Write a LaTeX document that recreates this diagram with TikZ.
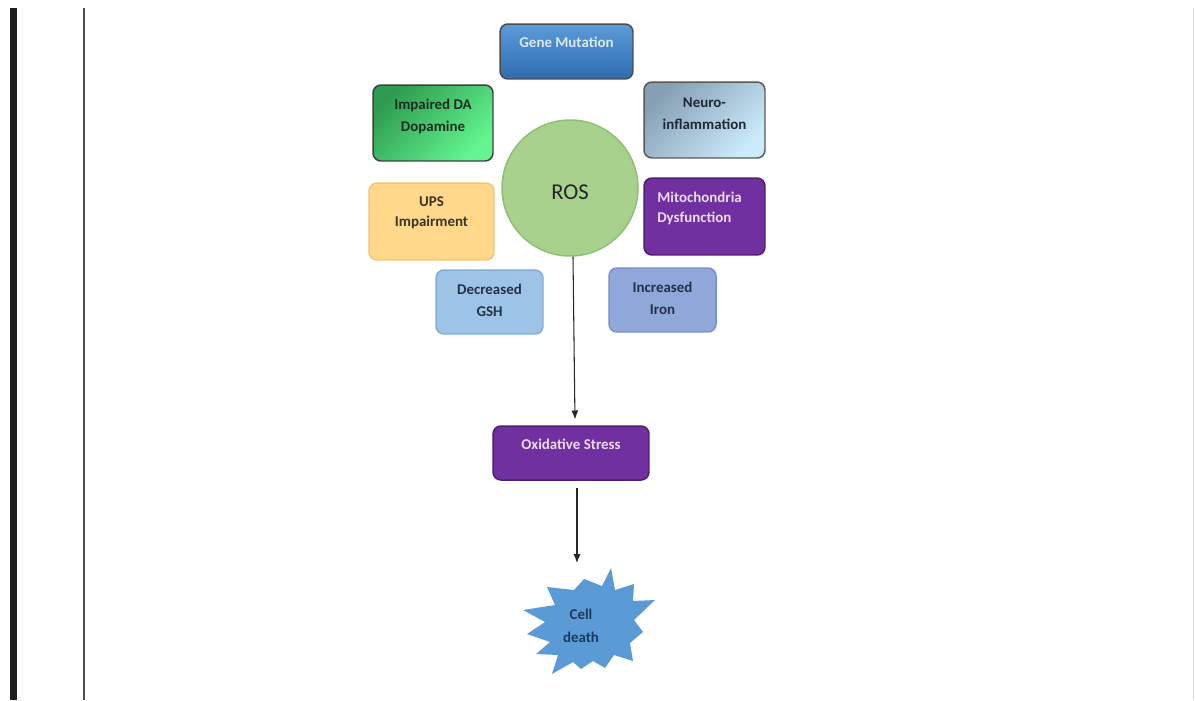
\documentclass[tikz,border=0pt]{standalone}
\usepackage{fontspec}
\setmainfont{Carlito}
\usetikzlibrary{arrows.meta}
\definecolor{gblueA}{HTML}{5A9BD8}
\definecolor{gblueB}{HTML}{2E6CB0}
\definecolor{gtxt}{HTML}{DCE8F6}
\definecolor{dagA}{HTML}{2E9C50}
\definecolor{dagB}{HTML}{64F590}
\definecolor{dtxt}{HTML}{1E2E22}
\definecolor{neuA}{HTML}{869FB4}
\definecolor{neuB}{HTML}{CBEAFA}
\definecolor{ntxt}{HTML}{1F2A36}
\definecolor{rosf}{HTML}{A9D18E}
\definecolor{rosb}{HTML}{8EBF72}
\definecolor{upsf}{HTML}{FFD88C}
\definecolor{upsb}{HTML}{F2C675}
\definecolor{utxt}{HTML}{3B3326}
\definecolor{mitf}{HTML}{7030A0}
\definecolor{mitb}{HTML}{4E1F73}
\definecolor{mtxt}{HTML}{EADCF7}
\definecolor{gshf}{HTML}{9DC3E6}
\definecolor{gshb}{HTML}{86ACD6}
\definecolor{irof}{HTML}{8FA7D9}
\definecolor{irob}{HTML}{7A91C6}
\definecolor{btxt}{HTML}{233247}
\definecolor{cdf}{HTML}{5B9BD5}
\definecolor{cdtxt}{HTML}{1F3A5F}
\begin{document}
\begin{tikzpicture}[x=0.02cm,y=-0.02cm,
  bx/.style={rounded corners=4.5pt, line width=0.85pt, inner sep=0pt},
  lb/.style={font=\bfseries\fontsize{8.5}{12.5}\selectfont, align=center, inner sep=0pt},
  arr/.style={-{Latex[length=5pt,width=4pt]}, line width=0.6pt, draw=black!85}]
\useasboundingbox (0,0) rectangle (1195,700);
\fill[white] (0,0) rectangle (1195,700);
% page frame
\fill[black!88] (10,8) rectangle (17,700);
\draw[line width=1pt, black!70] (84,8) -- (84,700);
\draw[line width=0.5pt, black!12] (1193,8) -- (1193,700);
% boxes
\node[bx, draw=black!70, top color=gblueA, bottom color=gblueB,
  minimum width=2.66cm, minimum height=1.10cm,
  label={[lb, text=gtxt, yshift=5.4pt]center:Gene Mutation}] (gene) at (566.5,51.5) {};
\node[bx, draw=black!75, left color=dagA, right color=dagB, shading angle=45,
  minimum width=2.40cm, minimum height=1.52cm,
  label={[lb, text=dtxt, yshift=4pt]center:Impaired DA\\Dopamine}] (da) at (433,123) {};
\node[bx, draw=black!65, left color=neuA, right color=neuB, shading angle=45,
  minimum width=2.42cm, minimum height=1.52cm,
  label={[lb, text=ntxt, yshift=3.4pt]center:Neuro-\\inflammation}] (neuro) at (704.5,120) {};
\node[circle, draw=rosb, fill=rosf, line width=0.85pt, minimum size=2.72cm, inner sep=0pt,
  font=\fontsize{12.9}{14}\selectfont, text=black!85, text height=13.5pt, text depth=0pt] (ros) at (570,188) {ROS};
\node[bx, draw=upsb, fill=upsf,
  minimum width=2.50cm, minimum height=1.54cm,
  label={[lb, text=utxt, yshift=4.8pt, font=\bfseries\fontsize{8.5}{11.4}\selectfont]center:UPS\\Impairment}] (ups) at (431.5,221.5) {};
\node[bx, draw=mitb, fill=mitf,
  minimum width=2.42cm, minimum height=1.54cm,
  label={[lb, text=mtxt, align=left, anchor=west, xshift=7.8pt, yshift=4.8pt, font=\bfseries\fontsize{8.5}{11.4}\selectfont]west:Mitochondria\\Dysfunction}] (mito) at (704.5,216.5) {};
\node[bx, draw=gshb, fill=gshf,
  minimum width=2.14cm, minimum height=1.28cm,
  label={[lb, text=btxt, yshift=1.1pt]center:Decreased\\GSH}] (gsh) at (489.5,302) {};
\node[bx, draw=irob, fill=irof,
  minimum width=2.14cm, minimum height=1.28cm,
  label={[lb, text=btxt, yshift=0.9pt]center:Increased\\Iron}] (iron) at (662.5,300) {};
\node[bx, draw=mitb, fill=mitf,
  minimum width=3.12cm, minimum height=1.08cm,
  label={[lb, text=mtxt, yshift=5.1pt]center:Oxidative Stress}] (ox) at (571,453) {};
% cell death starburst
\fill[cdf] (611,568) -- (602,586) -- (584,579) -- (574,590) -- (547,587) -- (555,605)
  -- (523,610) -- (545,622) -- (527,634) -- (550,642) -- (536,654) -- (558,655)
  -- (552,674) -- (573,662) -- (581,669) -- (593,661) -- (605,668) -- (614,655)
  -- (633,661) -- (630,643) -- (643,632) -- (634,620) -- (655,600) -- (633,601)
  -- (634,584) -- (615,590) -- cycle;
\node[lb, text=cdtxt, font=\bfseries\fontsize{8.5}{13}\selectfont] (cd) at (581,626) {Cell\\death};
\coordinate (cdtop) at (577,563);
% arrows
\draw[arr, shorten >=3.4pt] ([xshift=1.7pt]ros.south) -- ([xshift=2.3pt]ox.north);
\draw[arr, shorten <=4pt] (ox.south -| cdtop) -- (cdtop);
\end{tikzpicture}
\end{document}
